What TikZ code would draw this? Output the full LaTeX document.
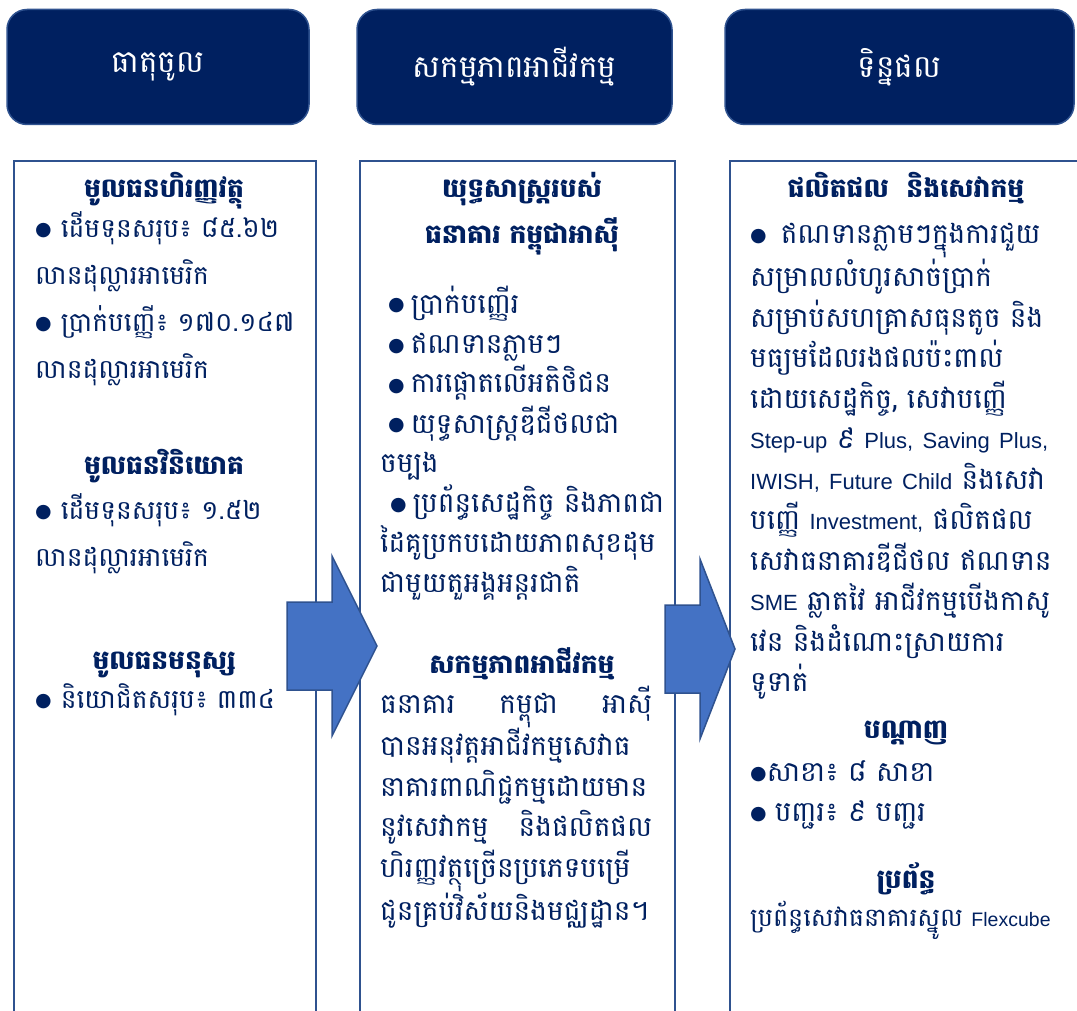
\documentclass[tikz,border=0pt]{standalone}
\usepackage{fontspec}
\setmainfont{Liberation Sans}
\newfontfamily\kh[Script=Khmer]{Battambang}
\newfontfamily\lat{Liberation Sans}
\newfontfamily\sym{DejaVu Sans}
\definecolor{navy}{RGB}{0,32,96}
\definecolor{edgeblue}{RGB}{47,82,143}
\definecolor{arrowblue}{RGB}{68,114,196}
\newcommand\blt{\raisebox{2pt}{\sym\fontsize{19}{19}\selectfont ●}}
\newcommand\en[2][22]{{\lat\fontsize{#1}{#1}\selectfont #2}}
\tikzset{
  headbox/.style={draw=edgeblue,line width=1.5pt,fill=navy,rounded corners=20pt,inner sep=0pt,
    text=white,font=\kh\fontsize{31}{36}\selectfont},
  colbox/.style={draw=edgeblue,line width=1.8pt,anchor=north west,minimum height=900pt},
  flowarrow/.style={draw=edgeblue,line width=1.5pt,fill=arrowblue,line join=miter},
  title/.style={text=navy,font=\kh\bfseries\fontsize{26.5}{46}\selectfont,align=center,anchor=base,
    text width=320pt,inner sep=0pt},
  body/.style={text=navy,anchor=base west,align=left,inner sep=0pt},
}

\begin{document}
\begin{tikzpicture}[x=1pt,y=-1pt]
\useasboundingbox (0,0) rectangle (1077,1011);
\node[headbox,minimum width=302pt,minimum height=115pt] (hin) at (158,67) {ធាតុចូល};
\node[headbox,minimum width=315pt,minimum height=115pt] (hact) at (514.5,67) {សកម្មភាពអាជីវកម្ម};
\node[headbox,minimum width=349pt,minimum height=115pt] (hout) at (899.5,67) {ទិន្នផល};

\node[colbox,minimum width=302pt] (colin) at (13,160) {};
\node[colbox,minimum width=315pt] (colact) at (359,160) {};
\node[colbox,minimum width=400pt] (colout) at (729,160) {};

\coordinate (ar1) at (287,646);
\coordinate (ar2) at (665,649);
\draw[flowarrow] (ar1) ++(0,-44) -- ++(45,0) -- ++(0,-46) -- ++(45,90) -- ++(-45,90) -- ++(0,-46) -- ++(-45,0) -- cycle;
\draw[flowarrow] (ar2) ++(0,-44) -- ++(35,0) -- ++(0,-46) -- ++(35,90) -- ++(-35,90) -- ++(0,-46) -- ++(-35,0) -- cycle;

\node[title] (capfin) at (164,198) {មូលធនហិរញ្ញវត្ថុ};
\node[body,text width=280pt,font=\kh\fontsize{26.5}{47}\selectfont] (capfintxt) at (35,238)
  {\blt\hspace{9pt}ដើមទុនសរុប៖ ៨៥.៦២\\ លានដុល្លារអាមេរិក\\ \blt\hspace{9pt}ប្រាក់បញ្ញើ៖ ១៧០.១៤៧\\ លានដុល្លារអាមេរិក};
\node[title] (capinv) at (164,474) {មូលធនវិនិយោគ};
\node[body,text width=280pt,font=\kh\fontsize{26.5}{47}\selectfont] (capinvtxt) at (35,519)
  {\blt\hspace{9pt}ដើមទុនសរុប៖ ១.៥២\\ លានដុល្លារអាមេរិក};
\node[title] (caphum) at (164,669) {មូលធនមនុស្ស};
\node[body,text width=280pt,font=\kh\fontsize{26.5}{47}\selectfont] (caphumtxt) at (35,708)
  {\blt\hspace{9pt}និយោជិតសរុប៖ ៣៣៤};

\node[title] (strat) at (522,198) {យុទ្ធសាស្ត្ររបស់\\ ធនាគារ កម្ពុជាអាស៊ី};
\node[body,text width=320pt,font=\kh\fontsize{28}{40}\selectfont] (strattxt) at (380,313)
  {\hspace*{8pt}\blt\hspace{6pt}ប្រាក់បញ្ញើរ\\ \hspace*{8pt}\blt\hspace{6pt}ឥណទានភ្លាមៗ\\ \hspace*{8pt}\blt\hspace{6pt}ការផ្តោតលើអតិថិជន\\
   \hspace*{8pt}\blt\hspace{6pt}យុទ្ធសាស្ត្រឌីជីថលជា\\ ចម្បង\\ \hspace*{10pt}\blt\hspace{6pt}ប្រព័ន្ធសេដ្ឋកិច្ច និងភាពជា\\
   ដៃគូប្រកបដោយភាពសុខដុម\\ ជាមួយតួអង្គអន្តរជាតិ};
\node[title] (biz) at (522,673) {សកម្មភាពអាជីវកម្ម};
\node[body,text width=272pt,font=\kh\fontsize{28}{40.5}\selectfont] (biztxt) at (380,713)
  {ធនាគារ\hfill កម្ពុជា\hfill អាស៊ី\\ បានអនុវត្តអាជីវកម្មសេវាធ\\ នាគារពាណិជ្ជកម្មដោយមាន\\
   នូវសេវាកម្ម\hfill និងផលិតផល\\ ហិរញ្ញវត្ថុច្រើនប្រភេទបម្រើ\\ ជូនគ្រប់វិស័យនិងមជ្ឈដ្ឋាន។};

\node[title] (prod) at (906,198) {ផលិតផល\ \ និងសេវាកម្ម};
\node[body,text width=325pt,font=\kh\fontsize{28}{40.5}\selectfont] (prodtxt) at (750,244)
  {\blt\hspace{14pt}ឥណទានភ្លាមៗក្នុងការជួយ\\ សម្រាលលំហូរសាច់ប្រាក់\\ សម្រាប់សហគ្រាសធុនតូច និង\\
   មធ្យមដែលរងផលប៉ះពាល់\\ ដោយសេដ្ឋកិច្ច, សេវាបញ្ញើ\\ \en{Step-up }៩\en{ Plus, Saving Plus,}\\
   \en{IWISH, Future Child }និងសេវា\\ បញ្ញើ\en{ Investment, }ផលិតផល\\ សេវាធនាគារឌីជីថល ឥណទាន\\
   \en{SME }ឆ្លាតវៃ អាជីវកម្មបើងកាសូ\\ វេន និងដំណោះស្រាយការ\\ ទូទាត់};
\node[title] (net) at (906,738) {បណ្ដាញ};
\node[body,text width=320pt,font=\kh\fontsize{28}{40}\selectfont] (nettxt) at (750,781)
  {\blt សាខា៖ ៨ សាខា\\ \blt\hspace{8pt}បញ្ជរ៖ ៩ បញ្ជរ};
\node[title] (sys) at (906,888) {ប្រព័ន្ធ};
\node[body,text width=320pt,font=\kh\fontsize{25.5}{28}\selectfont] (systxt) at (750,926)
  {ប្រព័ន្ធសេវាធនាគារស្នូល\en[19.5]{ Flexcube}};
\end{tikzpicture}
\end{document}
